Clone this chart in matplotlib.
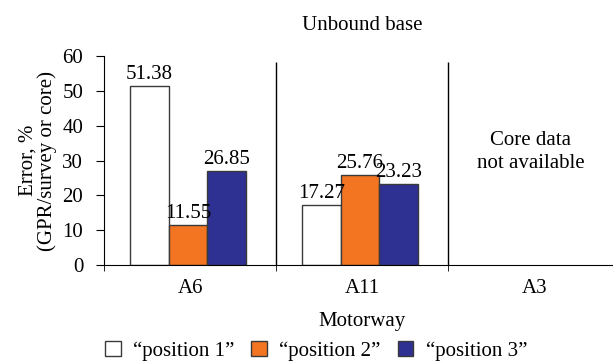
import numpy as np
import matplotlib.pyplot as plt

plt.rcParams['font.family'] = ['Liberation Serif', 'DejaVu Serif']

motorways = ['A6', 'A11', 'A3']
pos1 = [51.38, 17.27]
pos2 = [11.55, 25.76]
pos3 = [26.85, 23.23]
series_names = ['\u201cposition 1\u201d', '\u201cposition 2\u201d', '\u201cposition 3\u201d']
colors = ['white', '#F37421', '#2E3192']

fig = plt.figure(figsize=(6.13, 3.61), dpi=100)
ax = fig.add_axes([0.1697, 0.2659, 0.842, 0.579])

x = np.arange(len(pos1))
w = 0.224
for i, (vals, name, c) in enumerate(zip([pos1, pos2, pos3], series_names, colors)):
    xs = x + (i - 1) * w - 0.012
    ax.bar(xs, vals, w, color=c, edgecolor='#3a3a3a', linewidth=1, label=name)
    for xi, v in zip(xs, vals):
        ax.text(xi, v + 0.6, f'{v:.2f}', ha='center', va='bottom', fontsize=15)

ax.vlines([0.5, 1.5], 0, 58.3, color='black', linewidth=1)
ax.text(1.98, 32.4, 'Core data\nnot available', ha='center', va='center', fontsize=15,
        linespacing=1.25)

ax.set_xlim(-0.5, 2.5)
ax.set_ylim(0, 60)
ax.set_yticks(range(0, 61, 10))
ax.set_xticks(range(3))
ax.set_xticklabels(motorways)
ax.set_xticks([-0.5, 0.5, 1.5], minor=True)
ax.tick_params(axis='x', which='major', length=0, labelsize=15, pad=10)
ax.tick_params(axis='x', which='minor', length=4, direction='out')
ax.tick_params(axis='y', length=6, labelsize=15, pad=9)
for s in ['top', 'right']:
    ax.spines[s].set_visible(False)
ax.set_xlabel('Motorway', fontsize=15, labelpad=10)
ax.set_ylabel('Error, %\n(GPR/survey or core)', fontsize=15, linespacing=0.95, labelpad=4)
ax.set_title('Unbound base', fontsize=15, pad=19)

ax.legend(loc='center', bbox_to_anchor=(0.411, -0.41), ncol=3, frameon=False,
          fontsize=15, handlelength=0.75, handleheight=0.75, handletextpad=0.6,
          columnspacing=0.8, borderpad=0)

fig.savefig('out.png', dpi=100)
